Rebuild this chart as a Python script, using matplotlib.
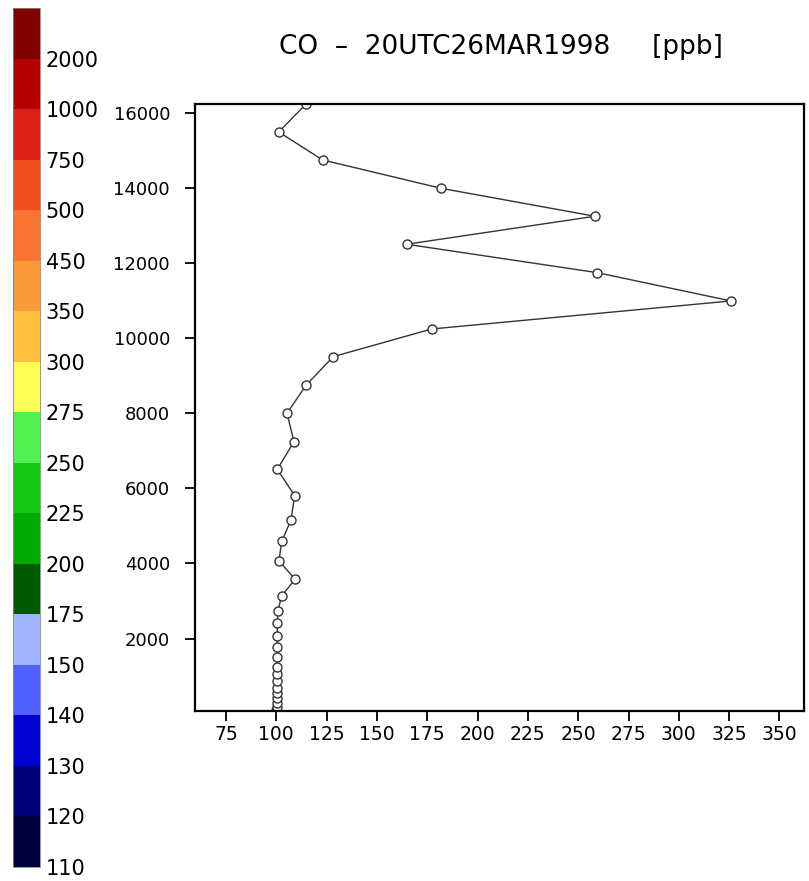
import numpy as np
import matplotlib
matplotlib.use("Agg")
import matplotlib.pyplot as plt
from matplotlib.colors import ListedColormap, BoundaryNorm
from matplotlib.colorbar import ColorbarBase

# CO profile (bottom -> top)
height = [101, 189, 295, 413, 546, 695, 865, 1051, 1254, 1504, 1770, 2071,
          2409, 2744, 3143, 3580, 4067, 4591, 5158, 5805, 6508, 7243, 7998,
          8752, 9505, 10242, 10988, 11741, 12497, 13242, 13987, 14741,
          15486, 16230]
co_ppb = [100.0, 100.1, 100.2, 100.3, 100.4, 100.5, 100.5, 100.5, 100.5,
          100.5, 100.5, 100.5, 100.5, 100.8, 102.7, 109.4, 101.3, 102.7,
          107.3, 109.1, 100.5, 108.8, 105.3, 114.9, 128.3, 177.2, 325.9,
          259.5, 164.8, 258.3, 181.8, 123.0, 101.2, 114.8]

# legend bar (bottom -> top)
cb_labels = ["110", "120", "130", "140", "150", "175", "200", "225", "250",
             "275", "300", "350", "450", "500", "750", "1000", "2000"]
cb_colors = ["#000040", "#000078", "#0000d0", "#5060ff", "#a0b4ff",
             "#005a00", "#00aa00", "#14c814", "#50f050", "#ffff55",
             "#ffc040", "#f89a3a", "#f87430", "#f05020", "#dc1e14",
             "#b40000", "#800000"]

W, H = 809, 881
fig = plt.figure(figsize=(W / 100, H / 100), dpi=100)

# colour bar on the left
cax = fig.add_axes([13 / W, (H - 867) / H, 27 / W, 859 / H])
n = len(cb_colors)
cb = ColorbarBase(cax, cmap=ListedColormap(cb_colors),
                  norm=BoundaryNorm(np.arange(n + 1), n),
                  ticks=np.arange(n), orientation="vertical")
cb.set_ticklabels(cb_labels)
cb.outline.set_linewidth(0.6)
cb.outline.set_edgecolor("#888888")
cax.tick_params(length=0, labelsize=15, pad=4)
cax.minorticks_off()

# profile plot
ax = fig.add_axes([195 / W, (H - 710.7) / H, 609 / W, 606.7 / H])
ax.plot(co_ppb, height, color="#333333", lw=1.0, marker="o", ms=6.5,
        mfc="white", mec="#333333", mew=1.0, clip_on=True)
ax.set_xlim(59.6, 362.2)
ax.set_ylim(82, 16230)
ax.set_xticks(np.arange(75, 351, 25))
ax.set_yticks(np.arange(2000, 16001, 2000))
ax.tick_params(axis="x", direction="out", length=7, width=1.3,
               labelsize=13.5, pad=3)
ax.tick_params(axis="y", direction="out", length=7, width=1.3,
               labelsize=13, pad=11)
for s in ax.spines.values():
    s.set_linewidth(1.6)

fig.text(501 / W, 1 - 47 / H, "CO  \u2013  20UTC26MAR1998     [ppb]",
         ha="center", va="center", fontsize=19)

fig.savefig("out.png", dpi=100)
